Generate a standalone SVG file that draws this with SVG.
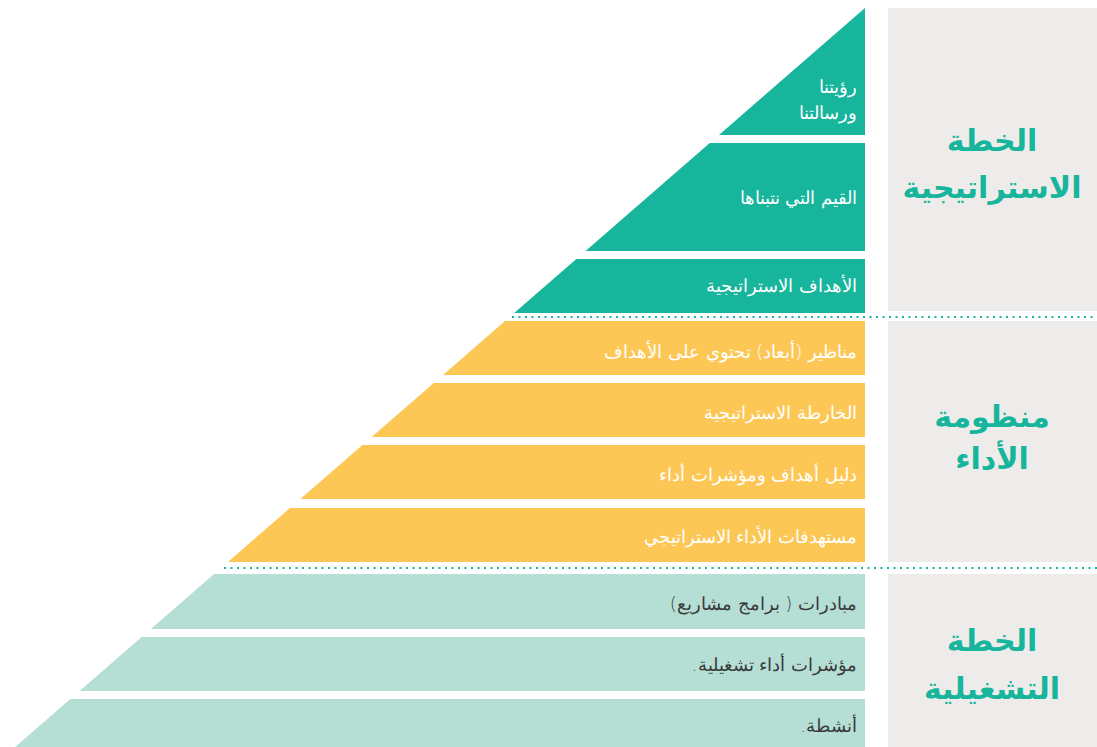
<svg xmlns="http://www.w3.org/2000/svg" width="1097" height="747" viewBox="0 0 1097 747">
<style>
.g{fill:#16b59c}
.y{fill:#fdc756}
.t{fill:#b5ded5}
.panel{fill:#edecea}
.lbl{font-family:"DejaVu Sans",sans-serif;font-size:18px;font-weight:300;direction:rtl;text-anchor:start}
.w{fill:#ffffff}
.d{fill:#3a3a3a}
.head{font-family:"DejaVu Sans",sans-serif;font-size:30px;font-weight:bold;fill:#16b59c;text-anchor:middle;direction:rtl}
.dot{stroke:#1ab39b;stroke-width:2;stroke-dasharray:2 4.5;fill:none}
</style>
<rect width="1097" height="747" fill="#ffffff"/>
<g id="panels">
<g id="panel-strategic"><rect class="panel" x="888" y="8" width="209" height="303"/><text class="head" x="992" y="151">الخطة</text><text class="head" x="992" y="198">الاستراتيجية</text></g>
<g id="panel-performance"><rect class="panel" x="888" y="321" width="209" height="241"/><text class="head" x="992" y="427">منظومة</text><text class="head" x="992" y="469">الأداء</text></g>
<g id="panel-operational"><rect class="panel" x="888" y="574" width="209" height="173"/><text class="head" x="992" y="651">الخطة</text><text class="head" x="992" y="699">التشغيلية</text></g>
</g>
<g id="connectors">
<line class="dot" x1="512" y1="317" x2="1097" y2="317"/>
<line class="dot" x1="224" y1="568" x2="1097" y2="568"/>
</g>
<g id="band-vision"><polygon class="g" points="865,8 865,135 719,135"/><text class="lbl w" x="857" y="93">رؤيتنا</text><text class="lbl w" x="857" y="119">ورسالتنا</text></g>
<g id="band-values"><polygon class="g" points="709.75,143 865,143 865,251 585.55,251"/><text class="lbl w" x="857" y="204">القيم التي نتبناها</text></g>
<g id="band-goals"><polygon class="g" points="576.35,259 865,259 865,313 514.25,313"/><text class="lbl w" x="857" y="292">الأهداف الاستراتيجية</text></g>
<g id="band-perspectives"><polygon class="y" points="505.05,321 865,321 865,375 442.95,375"/><text class="lbl w" x="857" y="358">مناظير (أبعاد) تحتوي على الأهداف</text></g>
<g id="band-map"><polygon class="y" points="433.75,383 865,383 865,437 371.65,437"/><text class="lbl w" x="857" y="419">الخارطة الاستراتيجية</text></g>
<g id="band-guide"><polygon class="y" points="362.45,445 865,445 865,499 300.35,499"/><text class="lbl w" x="857" y="481">دليل أهداف ومؤشرات أداء</text></g>
<g id="band-targets"><polygon class="y" points="290,508 865,508 865,562 227.9,562"/><text class="lbl w" x="857" y="543">مستهدفات الأداء الاستراتيجي</text></g>
<g id="band-initiatives"><polygon class="t" points="214.1,574 865,574 865,629 150.85,629"/><text class="lbl d" x="857" y="610">مبادرات ( برامج مشاريع)</text></g>
<g id="band-kpis"><polygon class="t" points="141.65,637 865,637 865,691 79.55,691"/><text class="lbl d" x="857" y="671">مؤشرات أداء تشغيلية.</text></g>
<g id="band-activities"><polygon class="t" points="70.35,699 865,699 865,747 15.15,747"/><text class="lbl d" x="857" y="732">أنشطة.</text></g>
</svg>
